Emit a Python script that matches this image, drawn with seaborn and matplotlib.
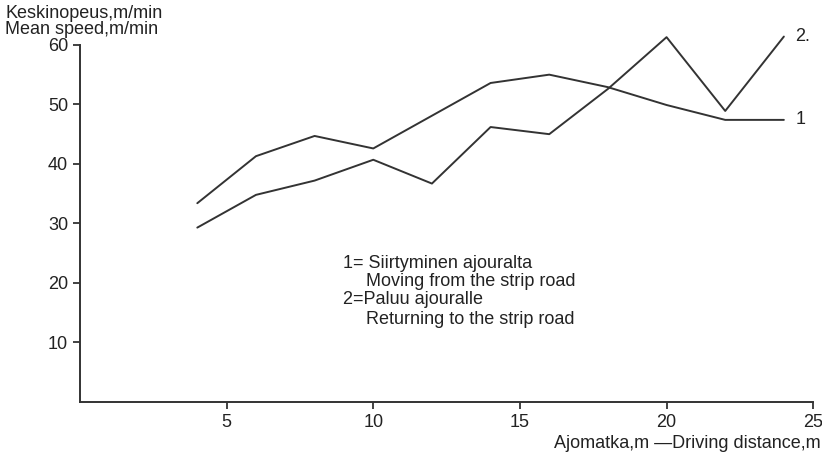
import pandas as pd
import matplotlib
matplotlib.use("Agg")
import matplotlib.pyplot as plt
import seaborn as sns

# Datos
distancia = [4, 6, 8, 10, 12, 14, 16, 18, 20, 22, 24]
siirtyminen = [33.4, 41.3, 44.7, 42.6, 48.1, 53.6, 55.0, 52.9, 49.9, 47.4, 47.4]
paluu = [29.3, 34.8, 37.2, 40.7, 36.7, 46.2, 45.0, 52.6, 61.3, 48.9, 61.4]
x_ticks = [5, 10, 15, 20, 25]
y_ticks = [10, 20, 30, 40, 50, 60]

df = pd.DataFrame({
    "distancia": distancia * 2,
    "velocidad": siirtyminen + paluu,
    "serie": ["1"] * len(distancia) + ["2"] * len(distancia),
})

sns.set_style("ticks")
plt.rcParams["font.family"] = ["Liberation Sans", "DejaVu Sans"]
color = "#333333"
txt_color = "#222222"
fs = 13

fig = plt.figure(figsize=(8.22, 4.57), dpi=100)
ax = fig.add_axes([0.0973, 0.1204, 0.892, 0.8074])

sns.lineplot(data=df, x="distancia", y="velocidad", hue="serie",
             palette={"1": color, "2": color}, linewidth=1.4,
             legend=False, ax=ax)

ax.set_xlim(0, 25)
ax.set_ylim(0, 62)
ax.set_xticks(x_ticks)
ax.set_yticks(y_ticks)
ax.tick_params(direction="out", length=5, width=1.3, colors=color,
               labelsize=fs, labelcolor=txt_color)
for s in ["top", "right"]:
    ax.spines[s].set_visible(False)
for s in ["left", "bottom"]:
    ax.spines[s].set_linewidth(1.4)
    ax.spines[s].set_color(color)
ax.spines["left"].set_bounds(0, 60)
ax.set_xlabel("")
ax.set_ylabel("")

# Títulos de los ejes
fig.text(5 / 822, 1 - 13 / 457, "Keskinopeus,m/min", fontsize=fs,
         va="center", ha="left", color=txt_color)
fig.text(5 / 822, 1 - 30 / 457, "Mean speed,m/min", fontsize=fs,
         va="center", ha="left", color=txt_color)
fig.text(821 / 822, 1 - 444 / 457, "Ajomatka,m \u2014Driving distance,m",
         fontsize=fs, va="center", ha="right", color=txt_color)

# Etiquetas de las series
ax.text(24.4, siirtyminen[-1], "1", fontsize=fs, va="center", ha="left", color=txt_color)
ax.text(24.4, paluu[-1], "2.", fontsize=fs, va="center", ha="left", color=txt_color)

# Leyenda como texto
leyenda = [
    (343, 263, "1= Siirtyminen ajouralta"),
    (366, 281, "Moving from the strip road"),
    (343, 300, "2=Paluu ajouralle"),
    (366, 319, "Returning to the strip road"),
]
for px, py, txt in leyenda:
    fig.text(px / 822, 1 - py / 457, txt, fontsize=fs, va="center",
             ha="left", color=txt_color)

fig.savefig("out.png", dpi=100, facecolor="white")
